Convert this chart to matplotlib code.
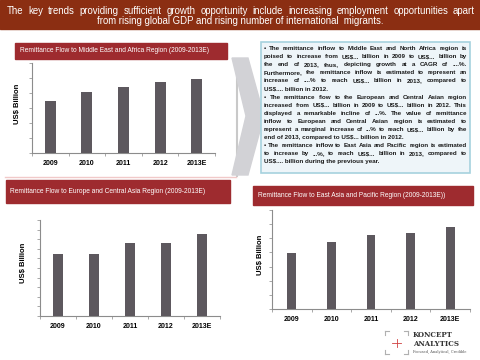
import matplotlib
matplotlib.use("Agg")
import matplotlib.pyplot as plt
from matplotlib.patches import Rectangle, Polygon
import numpy as np

W, H = 480, 360

# data (arbitrary units, axes carry no tick labels)
years = ["2009", "2010", "2011", "2012", "2013E"]
mea_values = [3.5, 4.1, 4.4, 4.75, 4.95]
eca_values = [6.45, 6.45, 7.6, 7.6, 8.55]
eap_values = [3.95, 4.75, 5.25, 5.35, 5.8]

header_lines = ["The key trends providing  sufficient growth opportunity  include  increasing employment  opportunities  apart",
                "from rising global GDP and rising number of international  migrants."]
mea_title = "Remittance Flow to Middle East and Africa Region (2009-2013E)"
eca_title = "Remittance Flow to Europe and Central Asia Region (2009-2013E)"
eap_title = "Remittance Flow to East Asia and Pacific Region (2009-2013E))"
ylabel = "US$ Billion"

summary = [
    ["\u2022 The remittance inflow to Middle East and North Africa region is",
     "poised to increase from US$... billion in 2009 to US$... billion by",
     "the end of 2013, thus, depicting growth at a CAGR of ....%.",
     "Furthermore, the remittance inflow is estimated to represent an",
     "increase of ....% to reach US$... billion in 2013, compared to",
     "US$.... billion in 2012."],
    ["\u2022 The remittance flow to the European and Central Asian region",
     "increased from US$... billion in 2009 to US$... billion in 2012. This",
     "displayed a remarkable incline of ...%. The value of remittance",
     "inflow to European and Central Asian region is estimated to",
     "represent a marginal increase of ...% to reach US$... billion by the",
     "end of 2013, compared to US$... billion in 2012."],
    ["\u2022 The remittance inflow to East Asia and Pacific region is estimated",
     "to increase by ...%, to reach US$... billion in 2013, compared to",
     "US$.... billion during the previous year."],
]

BAR = "#5d585e"
RED = "#9e2b2f"
HEAD = "#8b2e12"
NARROW = ["Liberation Sans Narrow", "Liberation Sans", "DejaVu Sans"]


def box(x0, y0, x1, y1):
    return [x0 / W, 1 - y1 / H, (x1 - x0) / W, (y1 - y0) / H]


fig = plt.figure(figsize=(4.8, 3.6), dpi=100)
fig.patch.set_facecolor("white")
bg = fig.add_axes([0, 0, 1, 1])
bg.set_xlim(0, W)
bg.set_ylim(H, 0)
bg.axis("off")
renderer = fig.canvas.get_renderer()


def text_width(s, **kw):
    t = bg.text(0, 0, s, **kw)
    w = t.get_window_extent(renderer).width
    t.remove()
    return w


def fit_size(s, width, **kw):
    return 10 * width / text_width(s, fontsize=10, **kw)


def justified(line, x0, x1, y, **kw):
    words = line.split()
    widths = [text_width(w, **kw) for w in words]
    gap = (x1 - x0 - sum(widths)) / (len(words) - 1)
    x = x0
    for w, wd in zip(words, widths):
        bg.text(x, y, w, ha="left", va="center", **kw)
        x += wd + gap


# header bar
bg.add_patch(Rectangle((0, 0), W, 29, color=HEAD, zorder=1))
hkw = dict(family="Liberation Sans", weight="normal")
hfs = min(fit_size(header_lines[1], 298, **hkw),
          fit_size(" ".join(header_lines[0].split()), 445, **hkw))
justified(header_lines[0], 7, 475, 11.5, color="white", fontsize=hfs, zorder=2, **hkw)
bg.text(W / 2, 20.5, header_lines[1], ha="center", va="center", color="white",
        fontsize=hfs, zorder=2, **hkw)

# panel title boxes
for (x0, y0, x1, y1, tx, tw, s) in [(15, 43, 227, 59, 20, 192, mea_title),
                                     (6, 180, 230, 203, 10, 198, eca_title),
                                     (253, 186, 473, 205, 258, 190, eap_title)]:
    bg.add_patch(Rectangle((x0, y0), x1 - x0, y1 - y0, color=RED, zorder=1))
    fs = fit_size(s, tw, family="Liberation Sans")
    bg.text(tx, (y0 + y1) / 2, s, ha="left", va="center", color="white",
            fontsize=fs, family="Liberation Sans", zorder=2)

# shadow edge of first panel
bg.plot([237, 237], [62, 176], color="#c9c9c9", lw=1.5, zorder=1)
bg.plot([5, 236], [177, 177], color="#f1c9c9", lw=1, zorder=1)

# chevron arrow behind the summary box
bg.add_patch(Polygon([(232, 58), (248, 58), (264, 116), (248, 175), (232, 175), (246, 116)],
                     closed=True, color="#d2d2d6", zorder=1))

# summary box
bg.add_patch(Rectangle((261, 42), 209, 131, facecolor="#eef5f9", edgecolor="#a6d2de",
                       lw=1.2, zorder=2))
skw = dict(family=NARROW, weight="bold")
all_lines = [" ".join(l.split()) for p in summary for l in p]
sfs = min(5.4, min(fit_size(l, 200, **skw) for l in all_lines))
y = 48.5
for para in summary:
    for i, line in enumerate(para):
        kw = dict(fontsize=sfs, color="#1a1a1a", zorder=3, **skw)
        if i < len(para) - 1:
            justified(line, 264, 467, y, **kw)
        else:
            bg.text(264, y, line, ha="left", va="center", **kw)
        y += 8.1


def bar_panel(rect, values, ymax, width, label_x):
    ax = fig.add_axes(box(*rect))
    x = np.arange(len(years))
    ax.bar(x, values, width=width, color=BAR, zorder=3)
    ax.set_xlim(-0.5, len(years) - 0.5)
    ax.set_ylim(0, ymax)
    ax.set_facecolor("none")
    for sp in ["top", "right"]:
        ax.spines[sp].set_visible(False)
    for sp in ["left", "bottom"]:
        ax.spines[sp].set_color("#8c8c8c")
        ax.spines[sp].set_linewidth(0.8)
    ax.set_yticks(np.arange(0, ymax + 1))
    ax.set_yticklabels([])
    ax.tick_params(axis="y", length=2.5, width=0.6, color="#9a9a9a")
    ax.set_xticks(x)
    ax.set_xticklabels(years, fontsize=5, weight="bold", family="Liberation Sans")
    ax.tick_params(axis="x", length=0, pad=5)
    ax.set_xticks(np.arange(-0.5, len(years)), minor=True)
    ax.tick_params(axis="x", which="minor", length=2.5, width=0.6, color="#9a9a9a")
    ax.set_ylabel(ylabel, fontsize=5.5, weight="bold", family="Liberation Sans")
    ax.yaxis.set_label_coords(label_x, 0.55)
    return ax


bar_panel((32, 63, 215, 153), mea_values, 6, 0.3, -0.06)
bar_panel((40, 220, 220, 316), eca_values, 10, 0.26, -0.07)
bar_panel((272, 210, 470, 309), eap_values, 7, 0.22, -0.04)

# logo
for (cx, cy, dx, dy) in [(385, 331, 1, 1), (408, 331, -1, 1), (385, 354, 1, -1), (408, 354, -1, -1)]:
    bg.plot([cx, cx + 4 * dx], [cy, cy], color="#b0b0b0", lw=0.8)
    bg.plot([cx, cx], [cy, cy + 4 * dy], color="#b0b0b0", lw=0.8)
bg.plot([392, 401], [343, 343], color="#d04040", lw=0.6)
bg.plot([396.5, 396.5], [339, 347], color="#d04040", lw=0.6)
bg.text(413, 335, "KONCEPT", fontsize=5, weight="bold", family="DejaVu Serif",
        color="#333333", va="center")
bg.text(413, 344, "ANALYTICS", fontsize=5, weight="bold", family="DejaVu Serif",
        color="#333333", va="center")
bg.text(413, 352, "Focused, Analytical, Credible", fontsize=2.6, family="DejaVu Serif",
        color="#555555", va="center")

fig.savefig("out.png", dpi=100)
